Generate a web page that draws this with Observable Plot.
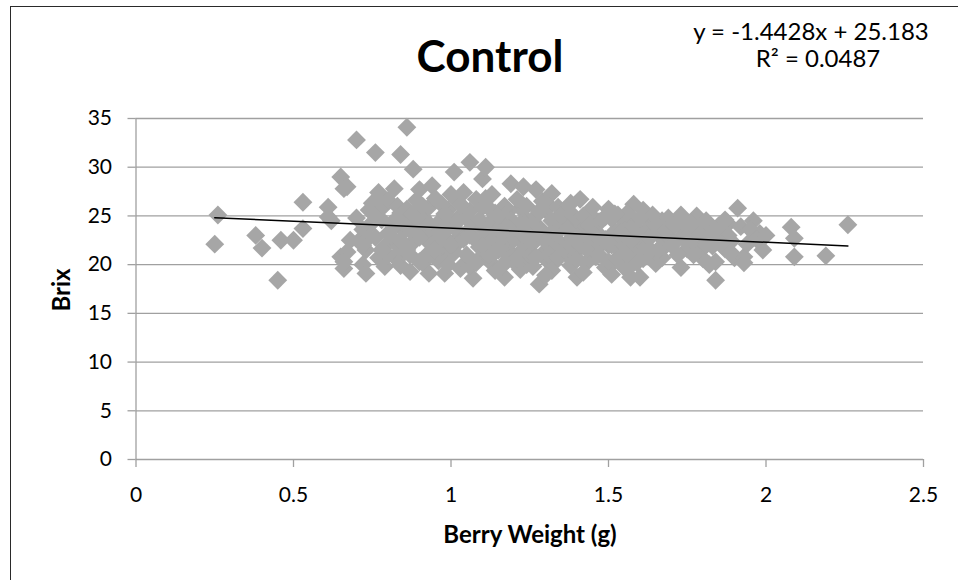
<!DOCTYPE html>
<html>
<head>
<meta charset="utf-8">
<script src="https://cdn.jsdelivr.net/npm/d3@7"></script>
<script src="https://cdn.jsdelivr.net/npm/@observablehq/plot@0.6"></script>
<style>
  html, body { margin: 0; padding: 0; background: #fff; }
  #wrap { position: relative; width: 958px; height: 580px; overflow: hidden; font-family: Lato, "Open Sans", sans-serif; }
  #frame { position: absolute; left: 10px; top: 6px; width: 960px; height: 600px; border: 1.5px solid #2a2a2a; box-sizing: border-box; }
  .txt { position: absolute; color: #000; white-space: nowrap; line-height: 1; }
  #title { left: 490px; top: 55px; transform: translate(-50%, -50%); font-size: 44px; font-weight: bold; }
  #eq1 { left: 811px; top: 31px; transform: translate(-50%, -50%); font-size: 24px; }
  #eq2 { left: 818px; top: 58px; transform: translate(-50%, -50%); font-size: 24px; }
  #xlab { left: 530px; top: 534px; transform: translate(-50%, -50%); font-size: 24px; font-weight: bold; }
  #ylab { left: 61px; top: 290px; transform: translate(-50%, -50%) rotate(-90deg); font-size: 24px; font-weight: bold; }
  #chart { position: absolute; left: 0; top: 0; }
</style>
</head>
<body>
<div id="wrap">
  <div id="chart"></div>
  <div id="frame"></div>
  <div class="txt" id="title">Control</div>
  <div class="txt" id="eq1">y = -1.4428x + 25.183</div>
  <div class="txt" id="eq2">R² = 0.0487</div>
  <div class="txt" id="xlab">Berry Weight (g)</div>
  <div class="txt" id="ylab">Brix</div>
</div>
<script>
// Data
const berryWeight = [
  0.25,0.26,0.38,0.40,0.45,0.46,0.50,0.53,0.53,0.61,0.61,0.62,0.65,0.66,0.65,0.66,0.67,0.66,0.70,0.67,0.68,
  0.70,0.71,0.72,0.73,0.72,0.74,0.73,0.75,0.74,
  0.76,0.77,0.76,0.78,0.77,0.79,0.78,0.80,0.79,0.80,
  0.82,0.84,0.81,0.83,0.84,0.82,0.84,0.85,0.83,0.85,0.81,
  0.86,0.88,0.87,0.86,0.88,0.89,0.90,0.87,0.89,0.90,0.86,
  0.94,0.93,0.91,0.92,0.94,0.93,0.95,0.91,0.95,0.92,0.94,
  0.98,0.96,0.97,0.99,0.98,1.00,0.96,0.99,1.00,0.97,1.00,
  1.01,1.02,1.03,1.04,1.02,1.05,1.03,1.04,1.01,1.05,1.03,
  1.06,1.07,1.08,1.06,1.09,1.10,1.07,1.08,1.09,1.10,1.06,1.10,
  1.11,1.12,1.13,1.14,1.11,1.15,1.12,1.14,1.13,1.15,1.12,
  1.17,1.16,1.18,1.19,1.17,1.20,1.16,1.19,1.18,1.20,1.16,
  1.23,1.21,1.22,1.24,1.25,1.21,1.23,1.24,1.22,1.25,1.21,
  1.27,1.28,1.26,1.29,1.30,1.27,1.26,1.29,1.28,1.30,1.27,
  1.32,1.31,1.33,1.34,1.31,1.35,1.32,1.34,1.33,1.35,1.30,
  1.38,1.36,1.37,1.39,1.40,1.36,1.38,1.40,1.37,1.39,
  1.41,1.42,1.43,1.44,1.45,1.42,1.44,1.41,1.45,1.43,
  1.47,1.46,1.48,1.49,1.50,1.47,1.49,1.46,1.50,
  1.52,1.51,1.53,1.54,1.55,1.52,1.53,1.55,1.51,
  1.57,1.56,1.58,1.59,1.57,1.60,1.58,1.56,1.59,
  1.61,1.60,1.62,1.63,1.64,1.65,1.62,1.64,1.61,
  1.66,1.67,1.68,1.69,1.70,1.67,1.69,
  1.73,1.71,1.72,1.74,1.75,1.73,1.75,
  1.78,1.76,1.77,1.79,1.80,1.78,1.80,
  1.84,1.82,1.83,1.81,1.85,1.84,1.82,1.85,
  1.86,1.87,1.88,1.89,1.90,1.88,
  1.91,1.93,1.92,1.94,1.96,1.98,1.99,1.95,1.97,1.93,2.00,
  2.08,2.09,2.09,2.19,2.26,
  0.80,0.82,0.84,0.86,0.88,0.90,0.92,0.93,0.96,0.98,0.99,1.01,1.02,1.04,1.05,1.07,1.08,1.09,
  1.11,1.12,1.13,1.14,1.16,1.17,1.18,1.19,1.20,1.21,1.22,1.23,1.24,1.25,1.26,1.27,1.28,1.29,
  1.30,1.31,1.32,1.33,1.34,1.35,1.36,1.37,1.38,1.39,1.40,1.41,1.42,1.43,1.44,1.46,1.47,1.48,
  1.49,1.50,1.51,1.52,1.53,1.54,1.55,1.56,1.57,1.58,1.59,1.60,1.62,1.63,1.65,1.66,1.68,1.70,
  1.71,1.72,1.74,1.76,1.77,1.79,1.81,1.83,1.86,1.87,1.89,0.74,0.76,0.78,0.72,0.95,0.97,1.00,
  1.03,1.06,1.10,1.15,1.18,0.91,0.87,0.83
];
const brix = [
  22.1,25.1,23.0,21.7,18.4,22.5,22.5,23.7,26.4,25.9,24.9,24.5,29.0,27.8,20.8,19.6,21.3,20.3,32.8,28.0,22.5,
  24.8,22.5,20.0,19.1,23.6,25.6,21.5,26.3,24.0,
  31.5,27.4,22.8,24.6,20.7,19.8,25.8,23.2,21.9,26.6,
  27.8,31.3,24.2,22.0,19.9,20.8,25.3,23.5,26.0,21.2,22.9,
  34.1,29.8,19.3,24.6,22.3,26.6,27.7,21.0,23.8,20.3,25.7,
  28.1,19.1,24.9,22.6,21.0,25.9,23.4,20.2,26.8,23.9,22.0,
  19.1,24.3,21.5,25.6,22.8,27.2,20.4,23.7,20.9,26.2,24.5,
  29.5,22.2,25.0,20.0,26.5,23.3,19.6,27.4,21.3,24.8,23.0,
  30.5,18.6,22.5,25.5,20.6,28.8,24.1,26.7,21.8,23.7,19.8,25.9,
  30.0,22.9,20.1,25.3,26.8,21.5,24.2,19.4,27.2,23.6,21.0,
  18.7,24.8,22.1,28.3,26.0,20.3,23.3,21.2,25.4,24.0,19.8,
  28.0,22.8,25.8,20.0,23.9,26.7,21.6,24.6,19.5,22.4,23.5,
  27.7,18.0,24.4,21.1,25.6,22.7,19.8,26.5,23.8,20.6,25.0,
  27.3,23.0,20.3,24.9,26.1,22.1,19.4,25.9,21.7,23.7,18.9,
  26.3,24.3,20.9,22.9,18.7,25.6,19.9,24.1,22.3,21.1,
  26.7,23.3,20.2,25.2,21.6,19.2,22.8,24.6,25.9,23.9,
  24.4,20.8,22.2,19.7,25.7,23.1,24.9,21.6,22.0,
  23.4,19.0,25.1,21.3,24.1,20.4,22.6,19.7,24.7,
  18.7,23.8,26.2,21.7,24.8,22.7,20.2,25.3,23.3,
  25.6,18.7,22.4,24.4,21.3,20.1,23.6,25.1,20.6,
  23.0,24.5,21.9,22.9,23.9,20.7,24.8,
  19.7,22.3,24.2,23.1,21.6,25.1,24.0,
  25.0,22.7,23.8,21.4,24.3,22.0,20.6,
  18.4,23.5,21.9,24.5,22.9,20.3,20.0,24.0,
  23.3,21.6,24.2,22.4,20.7,23.0,
  25.8,20.8,23.9,22.1,24.5,23.2,21.5,23.6,22.6,20.2,23.0,
  23.85,22.7,20.8,20.9,24.1,
  21.0,24.0,22.5,21.5,25.2,22.8,20.9,24.2,22.4,25.2,20.0,23.8,24.4,22.6,21.0,22.8,20.2,24.6,
  23.5,25.8,22.4,21.3,21.6,23.0,20.5,24.6,22.6,20.7,24.2,23.0,26.0,21.0,22.2,20.8,25.5,23.2,
  22.4,21.0,24.5,23.3,20.8,25.0,21.6,23.6,22.0,25.0,20.6,22.0,25.0,21.6,24.0,23.0,21.0,24.6,
  22.6,20.3,22.0,25.2,20.6,23.4,22.0,21.0,22.5,23.9,20.2,24.8,21.8,22.8,24.0,21.6,23.5,22.0,
  24.0,21.0,22.6,24.2,21.0,23.0,22.0,23.2,22.0,24.6,21.2,22.8,25.0,21.5,22.0,21.5,23.2,22.0,
  26.2,23.0,22.0,25.0,23.8,26.0,23.5,24.8
];
const yTicks = [0, 5, 10, 15, 20, 25, 30, 35];
const xTicks = [0, 0.5, 1, 1.5, 2, 2.5];
const slope = -1.4428;
const intercept = 25.183;

const points = berryWeight.map((x, i) => ({x, y: brix[i]}));
const xExtent = d3.extent(berryWeight);
const trend = xExtent.map(x => ({x, y: slope * x + intercept}));

const gridColor = "#a0a0a0";
const chart = Plot.plot({
  width: 958,
  height: 580,
  marginLeft: 135.5,
  marginRight: 35,
  marginTop: 118,
  marginBottom: 121,
  style: {fontFamily: "Lato, 'Open Sans', sans-serif", fontSize: "21px", color: "#000", background: "transparent"},
  x: {domain: [0, 2.5], ticks: xTicks, label: null},
  y: {domain: [0, 35], ticks: yTicks, label: null},
  marks: [
    Plot.ruleY(yTicks.filter(d => d > 0), {x1: 0, x2: 2.5, stroke: gridColor, strokeWidth: 1.3}),
    Plot.ruleX([0], {stroke: gridColor, strokeWidth: 1.3}),
    Plot.ruleY([0], {stroke: gridColor, strokeWidth: 1.3}),
    Plot.axisY({ticks: yTicks, tickSize: 8, tickPadding: 16, stroke: gridColor, strokeWidth: 1.3, fontSize: 21, fill: "#000"}),
    Plot.axisX({ticks: xTicks, tickSize: 8, tickPadding: 20, stroke: gridColor, strokeWidth: 1.3, fontSize: 21, fill: "#000", tickFormat: d => String(d)}),
    Plot.dot(points, {x: "x", y: "y", symbol: "diamond2", r: 8.5, fill: "#a6a6a6", stroke: "none"}),
    Plot.line(trend, {x: "x", y: "y", stroke: "#000", strokeWidth: 1.5})
  ]
});
document.getElementById("chart").appendChild(chart);
</script>
</body>
</html>
